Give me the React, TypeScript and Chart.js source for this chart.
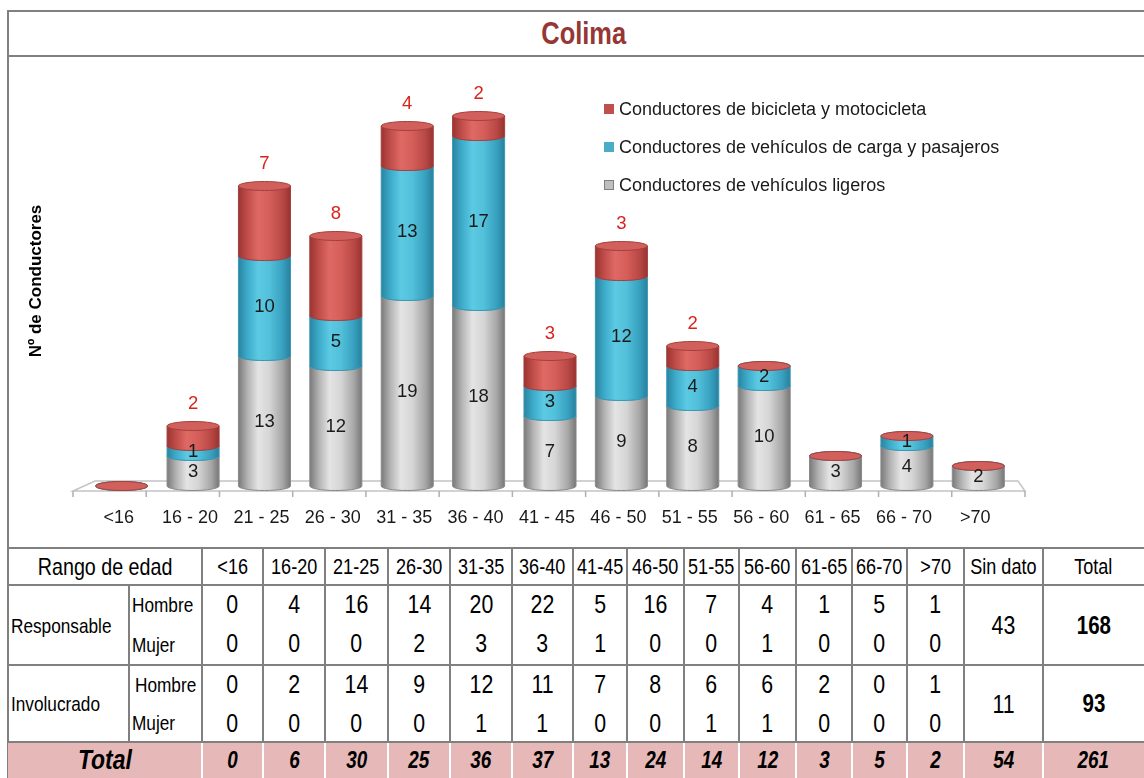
import React, { useEffect, useRef } from "react";
import { Chart, registerables } from "chart.js";

Chart.register(...registerables);

// ---------- Chart data ----------
const ageLabels = ["<16", "16 - 20", "21 - 25", "26 - 30", "31 - 35", "36 - 40", "41 - 45", "46 - 50", "51 - 55", "56 - 60", "61 - 65", "66 - 70", ">70"];
const lightVehicles = [0, 3, 13, 12, 19, 18, 7, 9, 8, 10, 3, 4, 2];
const cargoVehicles = [0, 1, 10, 5, 13, 17, 3, 12, 4, 2, 0, 1, 0];
const bikeMoto = [0, 2, 7, 8, 4, 2, 3, 3, 2, 0, 0, 0, 0];
const seriesNames = [
  "Conductores de vehículos ligeros",
  "Conductores de vehículos de carga y pasajeros",
  "Conductores de bicicleta y motocicleta",
];
const chartTitle = "Colima";
const yAxisTitle = "Nº de Conductores";

// ---------- Table data ----------
const tableAges = ["<16", "16-20", "21-25", "26-30", "31-35", "36-40", "41-45", "46-50", "51-55", "56-60", "61-65", "66-70", ">70"];
const respHombre = [0, 4, 16, 14, 20, 22, 5, 16, 7, 4, 1, 5, 1];
const respMujer = [0, 0, 0, 2, 3, 3, 1, 0, 0, 1, 0, 0, 0];
const invHombre = [0, 2, 14, 9, 12, 11, 7, 8, 6, 6, 2, 0, 1];
const invMujer = [0, 0, 0, 0, 1, 1, 0, 0, 1, 1, 0, 0, 0];
const respSinDato = 43;
const respTotal = 168;
const invSinDato = 11;
const invTotal = 93;
const totalsByAge = [0, 6, 30, 25, 36, 37, 13, 24, 14, 12, 3, 5, 2];
const totalSinDato = 54;
const grandTotal = 261;

// ---------- styles ----------
const SANS = "'Liberation Sans', Arial, sans-serif";
const LINE = "#808080";
const NARROW_SCALE = 0.82;

type Pal = { body: [number, string][]; top: string; stroke: string; legend: string; legendBorder: string };
const palettes: Pal[] = [
  {
    body: [[0, "#7a7a7a"], [0.18, "#b4b4b4"], [0.38, "#e4e4e4"], [0.6, "#d5d5d5"], [0.85, "#a6a6a6"], [1, "#777777"]],
    top: "#d0d0d0", stroke: "#8a8a8a", legend: "#bfbfbf", legendBorder: "#7f7f7f",
  },
  {
    body: [[0, "#2a84a0"], [0.18, "#3daccb"], [0.38, "#5ccae3"], [0.6, "#52c0da"], [0.85, "#37a0bf"], [1, "#28809c"]],
    top: "#60c5dd", stroke: "#3898b5", legend: "#4bacc6", legendBorder: "#4bacc6",
  },
  {
    body: [[0, "#9b3431"], [0.18, "#c14e4a"], [0.38, "#df6965"], [0.6, "#d55e5a"], [0.85, "#b84845"], [1, "#983330"]],
    top: "#d1605c", stroke: "#a53f3c", legend: "#c0504d", legendBorder: "#c0504d",
  },
];

function drawCyl(ctx: CanvasRenderingContext2D, x: number, top: number, bottom: number, w: number, pal: Pal) {
  const rx = w / 2;
  const ry = 4.5;
  ctx.lineWidth = 1;
  if (bottom - top > 0.5) {
    const g = ctx.createLinearGradient(x - rx, 0, x + rx, 0);
    pal.body.forEach(([o, c]) => g.addColorStop(o, c));
    ctx.beginPath();
    ctx.moveTo(x - rx, top);
    ctx.lineTo(x - rx, bottom);
    ctx.ellipse(x, bottom, rx, ry, 0, Math.PI, 0, true);
    ctx.lineTo(x + rx, top);
    ctx.closePath();
    ctx.fillStyle = g;
    ctx.fill();
    ctx.strokeStyle = pal.stroke;
    ctx.stroke();
  }
  ctx.beginPath();
  ctx.ellipse(x, top, rx, ry, 0, 0, Math.PI * 2);
  ctx.fillStyle = pal.top;
  ctx.fill();
  ctx.strokeStyle = pal.stroke;
  ctx.stroke();
}

const cylinderPlugin = {
  id: "cylinders",
  afterDatasetsDraw(chart: any) {
    const ctx: CanvasRenderingContext2D = chart.ctx;
    const xs = chart.scales.x;
    const ys = chart.scales.y;
    const base = ys.getPixelForValue(0);
    const n = chart.data.labels.length;
    ctx.save();

    // floor
    const fl = xs.left - 13, fr = xs.right + 11, bl = xs.left + 9, br = xs.right + 4;
    const fy = base + 5, by = base - 5;
    ctx.beginPath();
    ctx.moveTo(fl, fy);
    ctx.lineTo(bl, by);
    ctx.lineTo(br, by);
    ctx.lineTo(fr, fy);
    ctx.closePath();
    ctx.fillStyle = "#ffffff";
    ctx.fill();
    ctx.strokeStyle = "#c4c4c4";
    ctx.lineWidth = 1.5;
    ctx.stroke();
    ctx.beginPath();
    for (let k = 0; k <= n; k++) {
      const tx = fl + (k * (fr - fl)) / n;
      ctx.moveTo(tx, fy);
      ctx.lineTo(tx, fy + 6);
    }
    ctx.strokeStyle = "#b0b0b0";
    ctx.lineWidth = 1.5;
    ctx.stroke();

    // cylinders
    for (let i = 0; i < n; i++) {
      for (let d = 0; d < chart.data.datasets.length; d++) {
        const el = chart.getDatasetMeta(d).data[i];
        const p = el.getProps(["x", "y", "base", "width"], true);
        drawCyl(ctx, p.x, p.y, p.base, p.width, palettes[d]);
      }
    }

    // value labels
    ctx.textAlign = "center";
    ctx.textBaseline = "middle";
    for (let d = 0; d < chart.data.datasets.length; d++) {
      const ds = chart.data.datasets[d];
      const meta = chart.getDatasetMeta(d);
      for (let i = 0; i < n; i++) {
        const v = ds.data[i];
        if (!v) continue;
        const p = meta.data[i].getProps(["x", "y", "base"], true);
        ctx.font = `18.5px ${SANS}`;
        if (d === 2) {
          ctx.fillStyle = "#d9221c";
          ctx.fillText(String(v), p.x, p.y - 22);
        } else {
          ctx.fillStyle = "#1a1a1a";
          ctx.fillText(String(v), p.x, (p.y + p.base) / 2 + 1);
        }
      }
    }

    // category labels
    ctx.font = `18px ${SANS}`;
    ctx.fillStyle = "#1a1a1a";
    for (let i = 0; i < n; i++) {
      ctx.fillText(chart.data.labels[i], xs.getPixelForValue(i) - 3, base + 32);
    }

    // legend (reverse order)
    ctx.textAlign = "left";
    const order = [2, 1, 0];
    order.forEach((d, k) => {
      const yy = 109 + k * 38;
      const pal = palettes[d];
      ctx.fillStyle = pal.legend;
      ctx.fillRect(604, yy - 5, 10, 10);
      ctx.strokeStyle = pal.legendBorder;
      ctx.lineWidth = 1;
      ctx.strokeRect(604.5, yy - 4.5, 9, 9);
      ctx.fillStyle = "#1a1a1a";
      ctx.font = `18px ${SANS}`;
      ctx.fillText(chart.data.datasets[d].label, 619, yy + 1);
    });

    // y axis title
    ctx.save();
    ctx.translate(36, 281);
    ctx.rotate(-Math.PI / 2);
    ctx.textAlign = "center";
    ctx.font = `bold 17px ${SANS}`;
    ctx.fillStyle = "#000";
    ctx.fillText(yAxisTitle, 0, 0);
    ctx.restore();

    ctx.restore();
  },
};

function ChartCanvas() {
  const ref = useRef<HTMLCanvasElement | null>(null);
  useEffect(() => {
    if (!ref.current) return;
    const chart = new Chart(ref.current, {
      type: "bar",
      data: {
        labels: ageLabels,
        datasets: [
          { label: seriesNames[0], data: lightVehicles, backgroundColor: "rgba(0,0,0,0)", borderWidth: 0 },
          { label: seriesNames[1], data: cargoVehicles, backgroundColor: "rgba(0,0,0,0)", borderWidth: 0 },
          { label: seriesNames[2], data: bikeMoto, backgroundColor: "rgba(0,0,0,0)", borderWidth: 0 },
        ],
      },
      options: {
        responsive: false,
        animation: false,
        events: [],
        layout: { padding: { left: 86, right: 130, top: 86, bottom: 62 } },
        datasets: { bar: { barPercentage: 0.729, categoryPercentage: 1 } },
        scales: {
          x: { stacked: true, display: false },
          y: { stacked: true, display: false, min: 0, max: 40 },
        },
        plugins: { legend: { display: false }, tooltip: { enabled: false }, title: { display: false } },
      },
      plugins: [cylinderPlugin],
    } as any);
    return () => chart.destroy();
  }, []);
  return <canvas ref={ref} width={1144} height={548} style={{ position: "absolute", left: 0, top: 0, width: 1144, height: 548 }} />;
}

// ---------- table geometry ----------
const colX = [202, 263, 325, 388, 450, 512, 573, 627, 684, 739, 796, 852, 907, 964];
const sinX = [964, 1043];
const totX = [1043, 1144];
const yHead = [548, 585];
const yResp = [585, 625, 665];
const yInv = [665, 703, 742];
const yTot = [742, 778];

function Txt(props: { x1: number; x2: number; y1: number; y2: number; text: string | number; font: string; align?: "center" | "left"; pad?: number; color?: string }) {
  const { x1, x2, y1, y2, text, font, align = "center", pad = 0, color = "#000" } = props;
  return (
    <div
      style={{
        position: "absolute",
        left: x1 + pad,
        top: y1,
        width: x2 - x1 - pad,
        height: y2 - y1,
        display: "flex",
        alignItems: "center",
        justifyContent: align === "center" ? "center" : "flex-start",
        font,
        color,
        whiteSpace: "nowrap",
        lineHeight: 1,
      }}
    >
      <span
        style={{
          display: "inline-block",
          transform: `scaleX(${NARROW_SCALE})`,
          transformOrigin: align === "center" ? "center center" : "left center",
        }}
      >
        {text}
      </span>
    </div>
  );
}

function HL(props: { y: number; x1: number; x2: number; c?: string }) {
  return <div style={{ position: "absolute", left: props.x1, top: props.y - 1, width: props.x2 - props.x1, height: 2, background: props.c || LINE }} />;
}
function VL(props: { x: number; y1: number; y2: number; c?: string }) {
  return <div style={{ position: "absolute", left: props.x - 1, top: props.y1, width: 2, height: props.y2 - props.y1, background: props.c || LINE }} />;
}

function DataTable() {
  const cells: React.ReactNode[] = [];
  const headFont = `22px ${SANS}`;
  const numFont = `26px ${SANS}`;
  const lblFont = `21px ${SANS}`;
  const totFont = `italic bold 23px ${SANS}`;

  cells.push(<div key="totbg" style={{ position: "absolute", left: 8, top: yTot[0], width: 1136, height: yTot[1] - yTot[0], background: "#e6b9b8" }} />);

  // header
  cells.push(<Txt key="rango" x1={8} x2={202} y1={yHead[0]} y2={yHead[1]} text="Rango de edad" font={`24px ${SANS}`} />);
  tableAges.forEach((a, i) => {
    cells.push(<Txt key={"h" + i} x1={colX[i]} x2={colX[i + 1]} y1={yHead[0]} y2={yHead[1]} text={a} font={headFont} />);
  });
  cells.push(<Txt key="hsd" x1={sinX[0]} x2={sinX[1]} y1={yHead[0]} y2={yHead[1]} text="Sin dato" font={headFont} />);
  cells.push(<Txt key="htot" x1={totX[0]} x2={totX[1]} y1={yHead[0]} y2={yHead[1]} text="Total" font={headFont} />);

  // group labels
  cells.push(<Txt key="resp" x1={8} x2={129} y1={yResp[0]} y2={yResp[2]} text="Responsable" font={lblFont} align="left" pad={3} />);
  cells.push(<Txt key="inv" x1={8} x2={129} y1={yInv[0]} y2={yInv[2]} text="Involucrado" font={lblFont} align="left" pad={3} />);
  cells.push(<Txt key="rh" x1={129} x2={202} y1={yResp[0]} y2={yResp[1] - 2} text="Hombre" font={lblFont} align="left" pad={3} />);
  cells.push(<Txt key="rm" x1={129} x2={202} y1={yResp[1]} y2={yResp[2] - 2} text="Mujer" font={lblFont} align="left" pad={3} />);
  cells.push(<Txt key="ih" x1={129} x2={202} y1={yInv[0]} y2={yInv[1]} text="Hombre" font={lblFont} align="left" pad={6} />);
  cells.push(<Txt key="im" x1={129} x2={202} y1={yInv[1]} y2={yInv[2]} text="Mujer" font={lblFont} align="left" pad={3} />);

  const rows: [number[], number, number][] = [
    [respHombre, yResp[0], yResp[1] - 2],
    [respMujer, yResp[1], yResp[2] - 4],
    [invHombre, yInv[0], yInv[1]],
    [invMujer, yInv[1], yInv[2]],
  ];
  rows.forEach(([vals, a, b], r) => {
    vals.forEach((v, i) => {
      cells.push(<Txt key={`v${r}-${i}`} x1={colX[i]} x2={colX[i + 1]} y1={a} y2={b} text={v} font={numFont} />);
    });
  });
  cells.push(<Txt key="rsd" x1={sinX[0]} x2={sinX[1]} y1={yResp[0]} y2={yResp[2]} text={respSinDato} font={numFont} />);
  cells.push(<Txt key="rtot" x1={totX[0]} x2={totX[1]} y1={yResp[0]} y2={yResp[2]} text={respTotal} font={`bold 25px ${SANS}`} />);
  cells.push(<Txt key="isd" x1={sinX[0]} x2={sinX[1]} y1={yInv[0]} y2={yInv[2]} text={invSinDato} font={numFont} />);
  cells.push(<Txt key="itot" x1={totX[0]} x2={totX[1]} y1={yInv[0]} y2={yInv[2]} text={invTotal} font={`bold 25px ${SANS}`} />);

  // totals row
  cells.push(<Txt key="tlabel" x1={8} x2={202} y1={yTot[0]} y2={yTot[1]} text="Total" font={`italic bold 28px ${SANS}`} />);
  totalsByAge.forEach((v, i) => {
    cells.push(<Txt key={"t" + i} x1={colX[i]} x2={colX[i + 1]} y1={yTot[0]} y2={yTot[1]} text={v} font={totFont} />);
  });
  cells.push(<Txt key="tsd" x1={sinX[0]} x2={sinX[1]} y1={yTot[0]} y2={yTot[1]} text={totalSinDato} font={totFont} />);
  cells.push(<Txt key="tgt" x1={totX[0]} x2={totX[1]} y1={yTot[0]} y2={yTot[1]} text={grandTotal} font={totFont} />);

  // grid lines
  const lines: React.ReactNode[] = [];
  [yHead[0], yResp[0], yInv[0], yTot[0]].forEach((y, k) => lines.push(<HL key={"hl" + k} y={y} x1={7} x2={1144} />));
  const vx = [...colX, sinX[1]];
  vx.forEach((x, k) => {
    lines.push(<VL key={"vl" + k} x={x} y1={yHead[0]} y2={yTot[0]} />);
    lines.push(<VL key={"vw" + k} x={x} y1={yTot[0] + 1} y2={yTot[1]} c="#ffffff" />);
  });
  lines.push(<VL key="vsub" x={129} y1={yResp[0]} y2={yTot[0]} />);

  return (
    <>
      {cells}
      {lines}
    </>
  );
}

export default function App() {
  return (
    <div style={{ position: "absolute", left: 0, top: 0, width: 1144, height: 778, overflow: "hidden", background: "#fff" }}>
      <div style={{ position: "absolute", left: 7, top: 10, width: 2, height: 768, background: LINE }} />
      <div style={{ position: "absolute", left: 7, top: 10, width: 1137, height: 2, background: LINE }} />
      <div style={{ position: "absolute", left: 7, top: 55, width: 1137, height: 2, background: LINE }} />
      <div
        style={{
          position: "absolute",
          left: 9,
          top: 12,
          width: 1135,
          height: 43,
          display: "flex",
          alignItems: "center",
          justifyContent: "center",
          font: `bold 31px ${SANS}`,
          color: "#953735",
          paddingLeft: 14,
          boxSizing: "border-box",
          lineHeight: 1,
        }}
      >
        <span style={{ display: "inline-block", transform: `scaleX(${NARROW_SCALE})` }}>{chartTitle}</span>
      </div>
      <ChartCanvas />
      <DataTable />
    </div>
  );
}
